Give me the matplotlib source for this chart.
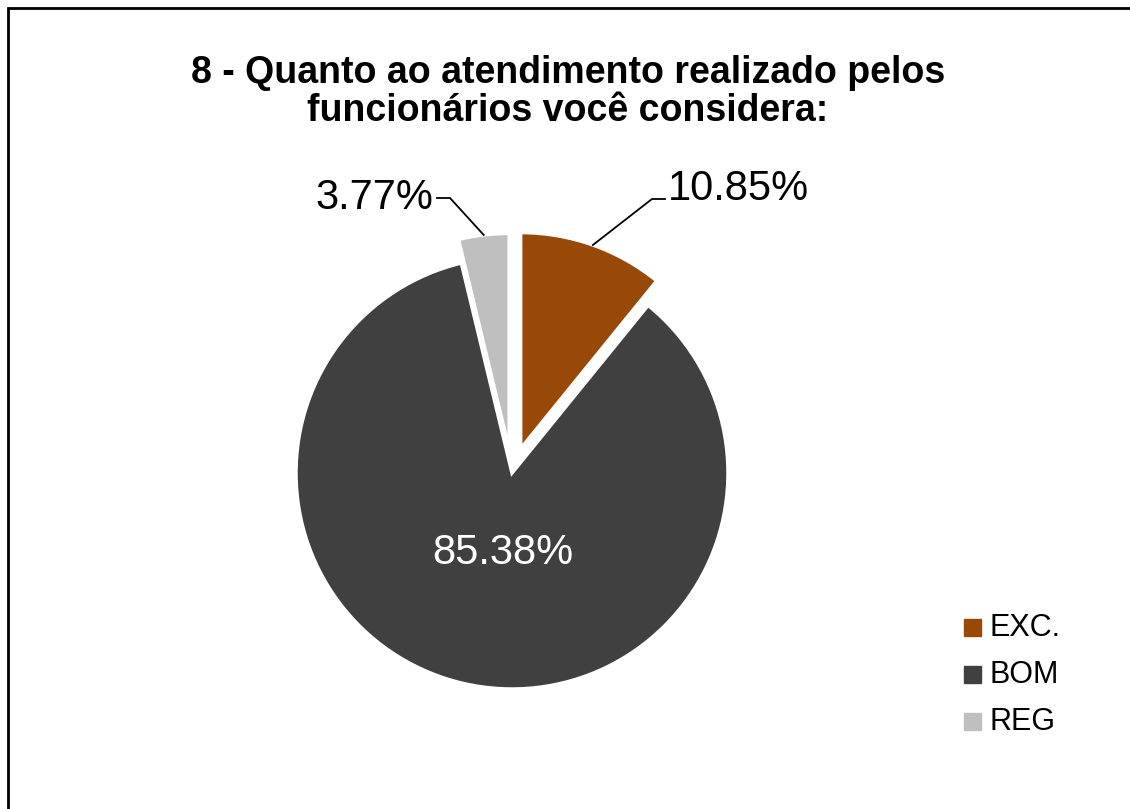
import matplotlib
matplotlib.use("Agg")
import matplotlib.pyplot as plt
import numpy as np
from matplotlib.patches import Rectangle

plt.rcParams['font.family'] = ['Liberation Sans', 'DejaVu Sans']

# data
labels = ["EXC.", "BOM", "REG"]
values = [10.85, 85.38, 3.77]
colors = ["#984807", "#404040", "#BFBFBF"]
title = "8 - Quanto ao atendimento realizado pelos\nfuncionários você considera:"

W, H = 1130, 809
fig = plt.figure(figsize=(W / 100, H / 100), dpi=100)
ax = fig.add_axes([0, 0, 1, 1])
ax.axis("off")

# pie in pixel coords (y up); explode is absolute in these units
cx, cy, R = 512, H - 473, 216
explode = [0.12 * R, 0.0, 0.11 * R]
wedges, _ = ax.pie(values, colors=colors, explode=explode, startangle=90,
                   counterclock=False, center=(cx, cy), radius=R,
                   wedgeprops=dict(edgecolor="white", linewidth=2.5))
ax.set_xlim(0, W)
ax.set_ylim(0, H)
ax.set_aspect("equal")

def arc_point(w):
    mid = np.deg2rad((w.theta1 + w.theta2) / 2)
    x0, y0 = w.center
    return x0 + w.r * np.cos(mid), y0 + w.r * np.sin(mid)

fs = 30
# EXC
px, py = arc_point(wedges[0])
ax.plot([px, 652, 665], [py, H - 199, H - 199], color="black", lw=1.3)
ax.text(668, H - 189, f"{values[0]:.2f}%", fontsize=fs, ha="left", va="center")
# REG
px, py = arc_point(wedges[2])
ax.plot([px, 450, 437], [py, H - 198, H - 198], color="black", lw=1.3)
ax.text(433, H - 198, f"{values[2]:.2f}%", fontsize=fs, ha="right", va="center")
# BOM
ax.text(503, H - 553, f"{values[1]:.2f}%", fontsize=fs, ha="center",
        va="center", color="white")

# title
ax.text(568, H - 92, title, fontsize=27, fontweight="bold", ha="center",
        va="center", linespacing=1.1)

# legend
for i, (lab, col) in enumerate(zip(labels, colors)):
    y = H - (628 + 47 * i)
    ax.add_patch(Rectangle((964, y - 8), 17, 17, color=col))
    ax.text(989, y, lab, fontsize=22, ha="left", va="center")

# chart border
ax.add_patch(Rectangle((8, -20), W + 20, H - 8 + 20, fill=False,
                       edgecolor="black", lw=2, clip_on=False))

fig.savefig("out.png", dpi=100)
